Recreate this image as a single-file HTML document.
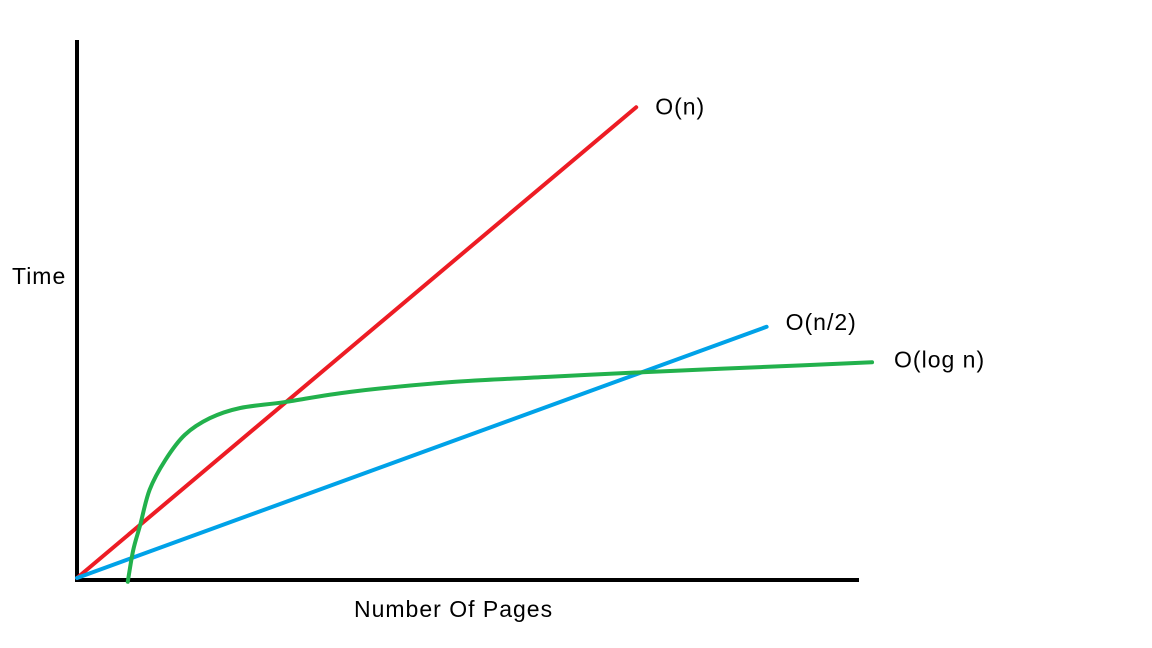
<!DOCTYPE html>
<html><head><meta charset="utf-8"><style>
html,body{margin:0;padding:0;background:#fff;}
svg{display:block;}
text{font-family:"Liberation Sans",sans-serif;font-size:23px;letter-spacing:1px;fill:#000;}
</style></head><body>
<svg id="chart" width="1152" height="648" viewBox="0 0 1152 648" xmlns="http://www.w3.org/2000/svg">
<line x1="77" y1="40" x2="77" y2="582" stroke="#000" stroke-width="4"/>
<line x1="75" y1="580" x2="859" y2="580" stroke="#000" stroke-width="4"/>
<text x="12" y="284">Time</text>
<text x="354" y="617">Number Of Pages</text>
<g id="series"></g>
</svg>
<script>
const seriesNames = ["O(n)", "O(n/2)", "O(log n)"];
const linearX = [0, 71.6];
const linearY = [0, 87.5];
const halfX = [0, 88.3];
const halfY = [0, 46.7];
const logX = [6.5, 7.2, 8.1, 9.3, 11.3, 13.8, 17.0, 20.9, 26.6, 35.0, 47.8, 60.6, 73.1, 87.5, 101.8];
const logY = [-0.7, 5.2, 9.9, 16.4, 21.9, 26.6, 29.7, 31.6, 32.7, 34.6, 36.4, 37.4, 38.3, 39.2, 40.1];

function sx(v){ return 77 + v * 7.81; }
function sy(v){ return 578 - v * 5.38; }

const g = document.getElementById('series');
const NS = "http://www.w3.org/2000/svg";
function smoothPath(pts){
  let d = 'M' + pts[0][0] + ',' + pts[0][1];
  for (let i = 0; i < pts.length - 1; i++){
    const p0 = pts[i-1] || pts[i], p1 = pts[i], p2 = pts[i+1], p3 = pts[i+2] || p2;
    const c1x = p1[0] + (p2[0]-p0[0])/6, c1y = p1[1] + (p2[1]-p0[1])/6;
    const c2x = p2[0] - (p3[0]-p1[0])/6, c2y = p2[1] - (p3[1]-p1[1])/6;
    d += ' C' + c1x + ',' + c1y + ' ' + c2x + ',' + c2y + ' ' + p2[0] + ',' + p2[1];
  }
  return d;
}
function draw(xs, ys, color, name, label, dx, dy){
  const pts = xs.map((x,i)=>[sx(x), sy(ys[i])]);
  const p = document.createElementNS(NS, 'path');
  p.setAttribute('d', smoothPath(pts));
  p.setAttribute('fill','none');
  p.setAttribute('stroke',color);
  p.setAttribute('stroke-width','4');
  p.setAttribute('stroke-linejoin','round');
  p.setAttribute('stroke-linecap','round');
  
  
  g.appendChild(p);
  const t = document.createElementNS(NS, 'text');
  const n = xs.length - 1;
  t.setAttribute('x', sx(xs[n]) + dx);
  t.setAttribute('y', sy(ys[n]) + dy);
  t.textContent = label;
  
  
  g.appendChild(t);
}
draw(linearX, linearY, '#ed1c24', 'line-o-n', seriesNames[0], 19, 7);
draw(halfX, halfY, '#00a2e8', 'line-o-n-half', seriesNames[1], 19, 3);
draw(logX, logY, '#22b14c', 'line-o-log-n', seriesNames[2], 22, 5);
</script>
</body></html>
